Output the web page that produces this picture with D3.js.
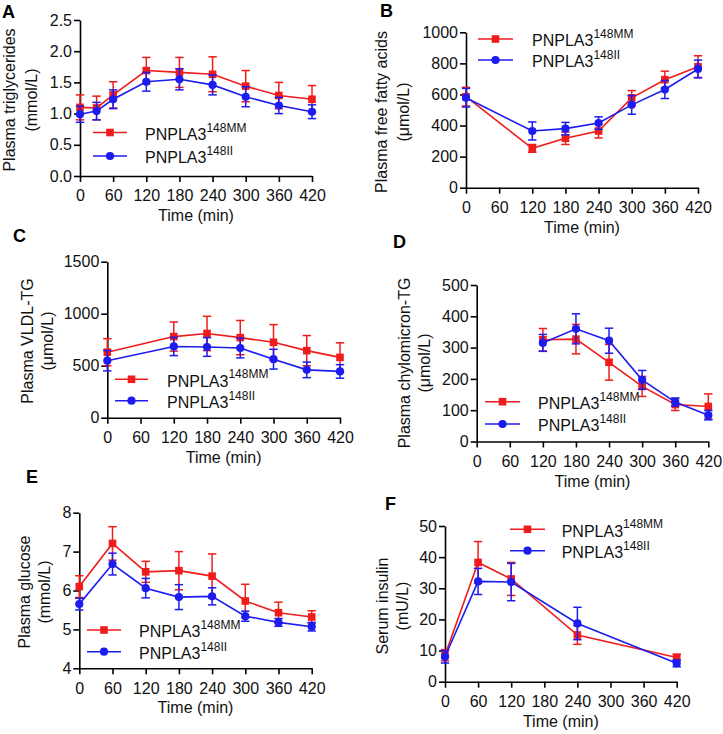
<!DOCTYPE html>
<html>
<head>
<meta charset="utf-8">
<script src="https://cdn.jsdelivr.net/npm/d3@7"></script>
<style>
  html, body { margin: 0; padding: 0; background: #fff; }
  svg { display: block; }
  svg text { font-family: "Liberation Sans", Arial, Helvetica, sans-serif; }
</style>
</head>
<body>
<svg id="chart" width="723" height="734"></svg>
<script>
// ---------------- DATA ----------------
const seriesNames = ["PNPLA3", "PNPLA3"];
const seriesSup = ["148MM", "148II"];
const xTicks = [0, 60, 120, 180, 240, 300, 360, 420];

// A: plasma triglycerides (mmol/L)
const timeA = [0, 30, 60, 120, 180, 240, 300, 360, 420];
const tgMM = [1.10, 1.09, 1.30, 1.69, 1.66, 1.63, 1.44, 1.29, 1.23];
const tgMMerr = [0.20, 0.19, 0.21, 0.21, 0.24, 0.28, 0.25, 0.21, 0.22];
const tgII = [0.99, 1.04, 1.23, 1.51, 1.55, 1.46, 1.27, 1.13, 1.03];
const tgIIerr = [0.13, 0.14, 0.15, 0.15, 0.17, 0.16, 0.16, 0.13, 0.11];
const tgTicks = [0, 0.5, 1.0, 1.5, 2.0, 2.5];

// B: plasma free fatty acids (µmol/L)
const timeB = [0, 120, 180, 240, 300, 360, 420];
const ffaMM = [586, 253, 318, 365, 578, 695, 779];
const ffaMMerr = [60, 25, 40, 45, 47, 55, 70];
const ffaII = [579, 365, 380, 416, 533, 632, 764];
const ffaIIerr = [60, 58, 40, 40, 60, 58, 57];
const ffaTicks = [0, 200, 400, 600, 800, 1000];

// C: plasma VLDL-TG (µmol/L)
const timeC = [0, 120, 180, 240, 300, 360, 420];
const vldlMM = [630, 780, 810, 770, 725, 645, 580];
const vldlMMerr = [130, 140, 165, 165, 170, 145, 140];
const vldlII = [548, 685, 680, 670, 563, 460, 445];
const vldlIIerr = [98, 88, 90, 95, 95, 75, 65];
const vldlTicks = [0, 500, 1000, 1500];

// D: plasma chylomicron-TG (µmol/L)
const timeD = [120, 180, 240, 300, 360, 420];
const chyloMM = [325, 327, 253, 176, 118, 112];
const chyloMMerr = [36, 47, 57, 32, 19, 40];
const chyloII = [315, 360, 322, 197, 126, 84];
const chyloIIerr = [27, 48, 40, 30, 13, 15];
const chyloTicks = [0, 100, 200, 300, 400, 500];

// E: plasma glucose (mmol/L)
const timeE = [0, 60, 120, 180, 240, 300, 360, 420];
const gluMM = [6.10, 7.21, 6.48, 6.51, 6.37, 5.73, 5.43, 5.32];
const gluMMerr = [0.28, 0.43, 0.27, 0.49, 0.57, 0.43, 0.27, 0.16];
const gluII = [5.65, 6.68, 6.06, 5.83, 5.85, 5.34, 5.18, 5.07];
const gluIIerr = [0.15, 0.28, 0.25, 0.32, 0.22, 0.13, 0.10, 0.11];
const gluTicks = [4, 5, 6, 7, 8];

// F: serum insulin (mU/L)
const timeF = [0, 60, 120, 240, 420];
const insMM = [8.5, 38.3, 33.0, 15.0, 7.8];
const insMMerr = [1.8, 6.7, 5.3, 3.0, 1.0];
const insII = [8.0, 32.2, 32.0, 18.7, 5.9];
const insIIerr = [2.0, 4.2, 6.0, 5.2, 1.1];
const insTicks = [0, 10, 20, 30, 40, 50];

// ---------------- STYLE / LAYOUT ----------------
const RED = "#f01c1c";
const BLUE = "#1c1cf0";
const FONT = 16;

const panels = [
  { letter: "A", lx: 2, ly: 18,
    x0: 80, x1: 312, yTop: 20, yBot: 176, dom: [0, 2.5], ticks: tgTicks, fmt: d3.format(".1f"),
    title: ["Plasma triglycerides", "(mmol/L)"], tx: 15, tdx: 22, tc: 100,
    time: timeA, mm: tgMM, mmE: tgMMerr, ii: tgII, iiE: tgIIerr,
    leg: { x1: 93, x2: 127, y: 132.5, dy: 23.5, tx: 145 } },
  { letter: "B", lx: 380, ly: 17,
    x0: 466, x1: 698, yTop: 32.3, yBot: 187.7, dom: [0, 1000], ticks: ffaTicks, fmt: d3.format("d"),
    title: ["Plasma free fatty acids", "(\u03bcmol/L)"], tx: 387, tdx: 22, tc: 112,
    time: timeB, mm: ffaMM, mmE: ffaMMerr, ii: ffaII, iiE: ffaIIerr,
    leg: { x1: 478, x2: 513, y: 39, dy: 21, tx: 532 } },
  { letter: "C", lx: 13, ly: 242,
    x0: 107.3, x1: 340, yTop: 261.7, yBot: 417.7, dom: [0, 1500], ticks: vldlTicks, fmt: d3.format("d"),
    title: ["Plasma VLDL-TG", "(\u03bcmol/L)"], tx: 33, tdx: 20, tc: 341,
    time: timeC, mm: vldlMM, mmE: vldlMMerr, ii: vldlII, iiE: vldlIIerr,
    leg: { x1: 115, x2: 148, y: 379.3, dy: 21.4, tx: 167 } },
  { letter: "D", lx: 393, ly: 248,
    x0: 476.7, x1: 708.3, yTop: 285, yBot: 441.5, dom: [0, 500], ticks: chyloTicks, fmt: d3.format("d"),
    title: ["Plasma chylomicron-TG", "(\u03bcmol/L)"], tx: 410, tdx: 20, tc: 363,
    time: timeD, mm: chyloMM, mmE: chyloMMerr, ii: chyloII, iiE: chyloIIerr,
    leg: { x1: 485, x2: 520, y: 401.7, dy: 22.3, tx: 538 } },
  { letter: "E", lx: 26, ly: 483,
    x0: 79.3, x1: 311.7, yTop: 512.7, yBot: 668.3, dom: [4, 8], ticks: gluTicks, fmt: d3.format("d"),
    title: ["Plasma glucose", "(mmol/L)"], tx: 30, tdx: 20, tc: 592,
    time: timeE, mm: gluMM, mmE: gluMMerr, ii: gluII, iiE: gluIIerr,
    leg: { x1: 87, x2: 121, y: 630, dy: 21.7, tx: 139 } },
  { letter: "F", lx: 385, ly: 510,
    x0: 445, x1: 676.7, yTop: 526, yBot: 681.7, dom: [0, 50], ticks: insTicks, fmt: d3.format("d"),
    title: ["Serum insulin", "(mU/L)"], tx: 388, tdx: 20, tc: 606,
    time: timeF, mm: insMM, mmE: insMMerr, ii: insII, iiE: insIIerr,
    leg: { x1: 510, x2: 545, y: 529.3, dy: 21.4, tx: 561.7 } }
];

const svg = d3.select("#chart");

function drawMarker(g, kind, cx, cy, color) {
  if (kind === "square") {
    g.append("rect").attr("x", cx - 3.8).attr("y", cy - 3.8)
      .attr("width", 7.6).attr("height", 7.6).attr("fill", color);
  } else {
    g.append("circle").attr("cx", cx).attr("cy", cy).attr("r", 4.1).attr("fill", color);
  }
}

function drawSeries(g, x, y, time, vals, errs, color, kind) {
  const s = g.append("g");
  const pts = time.map((t, i) => ({ t, v: vals[i], e: errs[i] }));
  pts.forEach(p => {
    const cx = x(p.t);
    const yHi = y(p.v + p.e), yLo = y(p.v - p.e);
    s.append("line").attr("x1", cx).attr("x2", cx).attr("y1", yHi).attr("y2", yLo)
      .attr("stroke", color).attr("stroke-width", 1.5);
    [yHi, yLo].forEach(yy => {
      s.append("line").attr("x1", cx - 4.2).attr("x2", cx + 4.2).attr("y1", yy).attr("y2", yy)
        .attr("stroke", color).attr("stroke-width", 1.5);
    });
  });
  s.append("path").datum(pts)
    .attr("d", d3.line().x(p => x(p.t)).y(p => y(p.v)))
    .attr("fill", "none").attr("stroke", color).attr("stroke-width", 1.6);
  pts.forEach(p => drawMarker(s, kind, x(p.t), y(p.v), color));
}

function drawLegend(g, L) {
  const rows = [
    { color: RED, kind: "square", sup: seriesSup[0], name: seriesNames[0] },
    { color: BLUE, kind: "circle", sup: seriesSup[1], name: seriesNames[1] }
  ];
  rows.forEach((r, i) => {
    const yy = L.y + i * L.dy;
    g.append("line").attr("x1", L.x1).attr("x2", L.x2).attr("y1", yy).attr("y2", yy)
      .attr("stroke", r.color).attr("stroke-width", 1.6);
    drawMarker(g, r.kind, (L.x1 + L.x2) / 2, yy, r.color);
    const t = g.append("text").attr("x", L.tx).attr("y", yy + 7.3)
      .attr("font-size", FONT).attr("fill", "#111");
    t.append("tspan").text(r.name);
    t.append("tspan").attr("dy", -8.3).attr("font-size", 12).text(r.sup);
  });
}

panels.forEach(P => {
  const g = svg.append("g");
  const x = d3.scaleLinear().domain([0, 420]).range([P.x0, P.x1]);
  const y = d3.scaleLinear().domain(P.dom).range([P.yBot, P.yTop]);

  g.append("text").attr("x", P.lx).attr("y", P.ly).attr("font-size", 18)
    .attr("font-weight", "bold").attr("fill", "#000").text(P.letter);

  const yAxis = d3.axisLeft(y).tickValues(P.ticks).tickFormat(P.fmt)
    .tickSize(6).tickPadding(2).tickSizeOuter(0);
  const xAxis = d3.axisBottom(x).tickValues(xTicks).tickFormat(d3.format("d"))
    .tickSize(6).tickPadding(8).tickSizeOuter(0);

  const ga = g.append("g").attr("transform", `translate(${P.x0},0)`).call(yAxis);
  const gb = g.append("g").attr("transform", `translate(0,${P.yBot})`).call(xAxis);
  [ga, gb].forEach(a => {
    a.attr("font-family", null);
    a.selectAll("path.domain").attr("stroke", "#000").attr("stroke-width", 1.6);
    a.selectAll(".tick line").attr("stroke", "#000").attr("stroke-width", 1.6);
    a.selectAll(".tick text").attr("font-size", FONT).attr("fill", "#111");
  });

  g.append("text").attr("x", (P.x0 + P.x1) / 2).attr("y", P.yBot + 45)
    .attr("text-anchor", "middle").attr("font-size", FONT).attr("fill", "#111")
    .text("Time (min)");

  P.title.forEach((line, i) => {
    g.append("text")
      .attr("transform", `translate(${P.tx + i * P.tdx},${P.tc}) rotate(-90)`)
      .attr("text-anchor", "middle").attr("font-size", FONT).attr("fill", "#111")
      .text(line);
  });

  drawSeries(g, x, y, P.time, P.mm, P.mmE, RED, "square");
  drawSeries(g, x, y, P.time, P.ii, P.iiE, BLUE, "circle");

  drawLegend(g, P.leg);
});
</script>
</body>
</html>
